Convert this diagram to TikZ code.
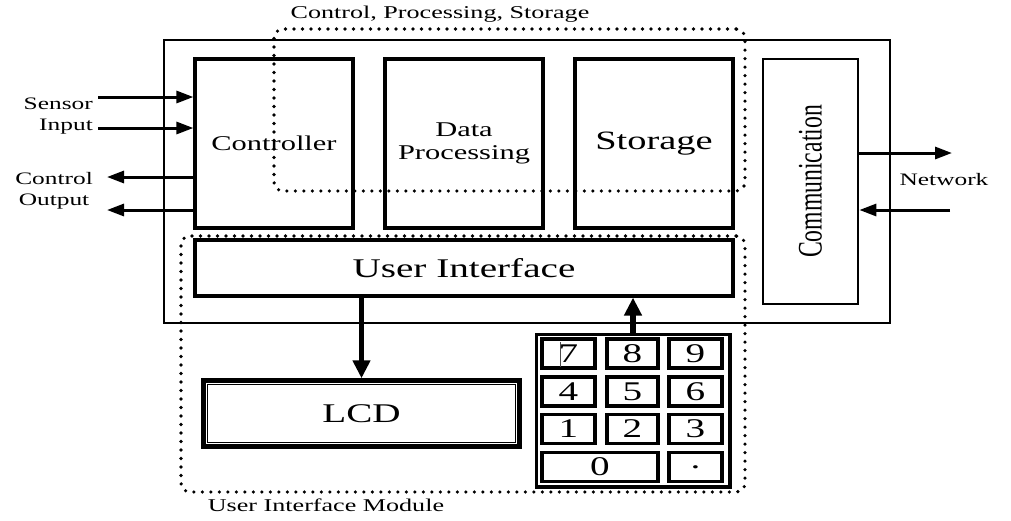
\documentclass[tikz,border=0pt]{standalone}
\usepackage{fontspec}
\setmainfont[FakeStretch=1.45]{Liberation Serif}
\newfontfamily\plainserif{Liberation Serif}
\usetikzlibrary{arrows.meta}

\tikzset{
  block/.style={draw, line width=3.2pt, inner sep=0pt, rectangle},
  grp/.style={draw, line width=3.6pt, dash pattern=on 0pt off 8.5pt, line cap=round,
              rounded corners=9pt, inner sep=0pt},
  sig/.style={line width=3pt, -{Triangle[length=17pt,width=12pt]}},
  bus/.style={line width=5.5pt, -{Triangle[length=18pt,width=17pt]}},
  keybox/.style={draw, line width=2.8pt, inner sep=0pt, minimum height=30pt,
                 font=\fontsize{27pt}{27pt}\selectfont},
  lbl/.style={font=\fontsize{17.5pt}{21pt}\selectfont, inner sep=0pt},
  inset/.style={line width=#1},
}

\begin{document}
\begin{tikzpicture}[x=1pt,y=-1pt]
\useasboundingbox (0,0) rectangle (1011,520);

% system enclosure
\node[draw, line width=2.5pt, inner sep=0pt, minimum width=726pt, minimum height=283pt] (sys) at (527,181.5) {};

% functional blocks
\node[block, minimum width=158pt, minimum height=169pt, font=\fontsize{21pt}{23pt}\selectfont] (ctrl) at (274,143.5) {Controller};
\node[block, minimum width=158pt, minimum height=169pt, align=center, font=\fontsize{21pt}{23pt}\selectfont] (dp) at (464,143.5) {Data\\Processing};
\node[block, minimum width=158pt, minimum height=169pt, font=\fontsize{26.5pt}{27pt}\selectfont] (stor) at (654,143.5) {Storage};
\node[block, line width=2.7pt, minimum width=95pt, minimum height=245pt] (comm) at (810.5,181.5) {};
\node[rotate=90, inner sep=0pt, font=\plainserif\fontsize{23.7pt}{24pt}\selectfont] (commtext) at (comm.center) {\scalebox{1}[1.45]{Communication}};
\node[block, minimum width=538pt, minimum height=56pt, font=\fontsize{27pt}{27pt}\selectfont] (ui) at (464,268) {User Interface};

% display
\node[block, line width=4.4pt, minimum width=316pt, minimum height=66pt, font=\fontsize{27pt}{27pt}\selectfont] (lcd) at (361.5,413.5) {LCD};
\draw[inset=1.5pt] ([shift={(6pt,-6pt)}]lcd.north west) rectangle ([shift={(-6pt,6pt)}]lcd.south east);

% keypad
\node[block, line width=3pt, minimum width=194pt, minimum height=153pt] (kp) at (633,410.5) {};
\draw[inset=0.9pt] ([shift={(3.2pt,-3.2pt)}]kp.north west) rectangle ([shift={(-3.2pt,3.2pt)}]kp.south east);
\foreach \n/\lab/\cx/\cy/\w in {k7/7/568.5/353.5/54, k8/8/632.5/353.5/52, k9/9/695.5/353.5/54,
                                k4/4/568.5/391.5/54, k5/5/632.5/391.5/52, k6/6/695.5/391.5/54,
                                k1/1/568.5/429/54,   k2/2/632.5/429/52,   k3/3/695.5/429/54,
                                k0/0/600/467/117,    kdot/./695.5/467/54} {
  \node[keybox, minimum width=\w pt] (\n) at (\cx,\cy) {\lab};
  \draw[inset=0.8pt] ([shift={(3.2pt,-3.2pt)}]\n.north west) rectangle ([shift={(-3.2pt,3.2pt)}]\n.south east);
}
% text cursor in the first key
\draw[line width=0.8pt, black!70] (560.5,342) -- (560.5,367);

% grouping outlines
\node[grp, minimum width=471pt, minimum height=162pt] (cpsgrp) at (509.5,110) {};
\node[grp, minimum width=564pt, minimum height=256pt] (uigrp) at (463,364) {};
\node[lbl, font=\fontsize{18pt}{18pt}\selectfont] (cpslbl) at (440,14) {Control, Processing, Storage};
\node[lbl, font=\fontsize{18pt}{18pt}\selectfont] (uilbl) at (326,505) {User Interface Module};

% sensor and actuator lines
\coordinate (sin1) at (98,97);
\coordinate (sin2) at (98,128);
\coordinate (cout1) at (107,177);
\coordinate (cout2) at (107,210);
\draw[sig] (sin1) -- (sin1 -| ctrl.west);
\draw[sig] (sin2) -- (sin2 -| ctrl.west);
\draw[sig] (cout1 -| ctrl.west) -- (cout1);
\draw[sig] (cout2 -| ctrl.west) -- (cout2);
\node[lbl, align=right, anchor=east] (sinlbl) at (93,116) {Sensor\\Input};
\node[lbl, align=center, anchor=east] (coutlbl) at (93,191) {Control\\Output};

% network link
\coordinate (nout) at (952,153);
\coordinate (nin) at (950,210);
\draw[sig] (nout -| comm.east) -- (nout);
\draw[sig] (nin) -- (nin -| comm.east);
\node[lbl] (netlbl) at (944,180) {Network};

% user interface connections
\draw[bus] (ui.south -| lcd.north) -- (lcd.north);
\draw[bus] (kp.north) -- (kp.north |- ui.south);
\end{tikzpicture}
\end{document}
